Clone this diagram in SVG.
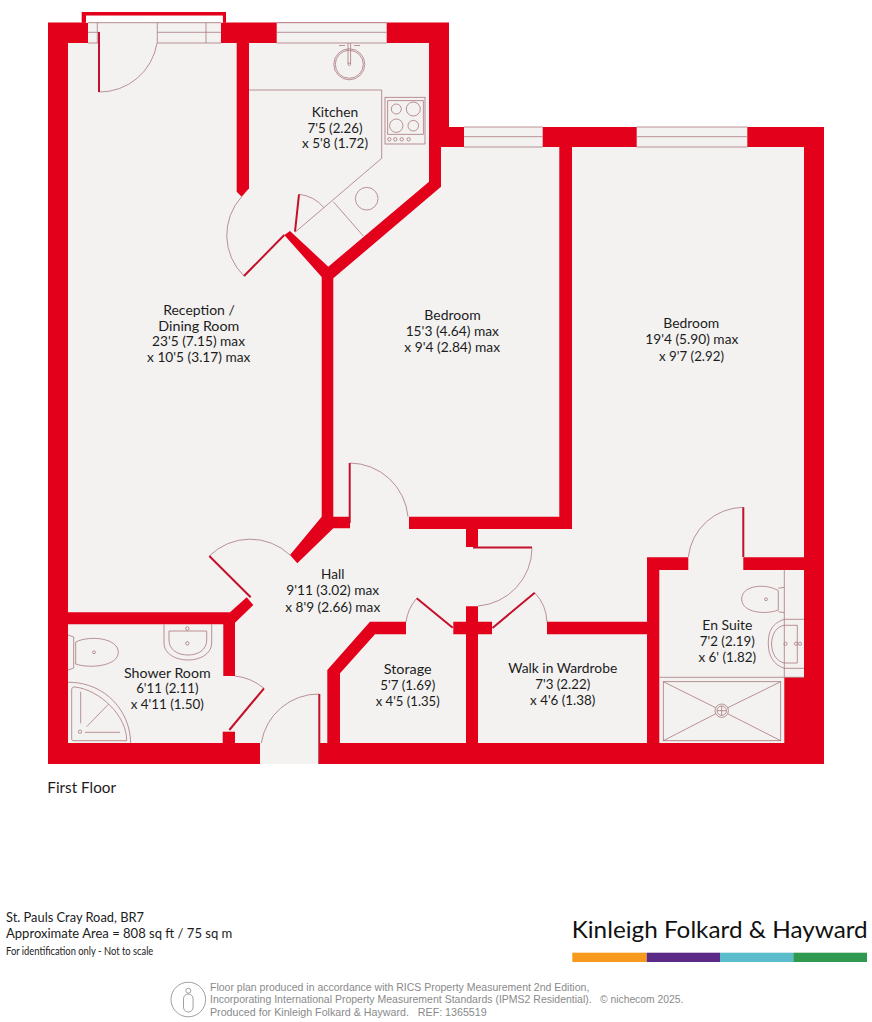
<svg xmlns="http://www.w3.org/2000/svg" width="872" height="1022" viewBox="0 0 872 1022">
<style>
.wall{fill:#e2001a}
.room{fill:#f3f2f1}
.ln{fill:none;stroke:#a9777c;stroke-width:.8}
.leaf{fill:none;stroke:#c4102a;stroke-width:2}
.t{font-family:Lato,"Open Sans",sans-serif;font-size:14.2px;fill:#1c1c1c;text-anchor:middle}
.l{font-family:Lato,"Open Sans",sans-serif;fill:#1c1c1c}
.g{font-family:"Liberation Sans",Arial,sans-serif;font-size:10.7px;fill:#8a8a8a}
</style>
<rect width="872" height="1022" fill="#fff"/>
<g id="shell">
<polygon class="wall" points="48,22.5 449,22.5 449,127 824,127 824,764 48,764"/>
<polygon class="room" points="68,43 429,43 429,147 804,147 804,743 68,743"/>
<polygon class="wall" points="81.7,22.7 81.7,12 226,12 226,22.7 222.7,22.7 222.7,15.7 86,15.7 86,22.7"/>
<rect x="86" y="15.7" width="136.7" height="7" fill="#fff"/>
</g>
<g id="walls">
<polygon class="wall" points="236.7,43 236.7,191.7 241.7,196.7 249,188.3 249,43"/>
<polygon class="wall" points="429,140 441,140 441,186.7 333.3,278.3 333.3,516.7 350,516.7 350,528.3 333.3,528.3 297.3,563.3 290,555 321.7,516.7 321.7,277 284.3,235 290,231 328.3,266.7 429,181.7"/>
<polygon class="wall" points="559.3,147 572,147 572,529 478,529 478,547 466,547 466,529 409,529 409,516.7 559.3,516.7"/>
<polygon class="wall" points="466,606.3 478,606.3 478,621.7 492,621.7 492,634.3 478,634.3 478,743 466,743 466,634.3 453.3,634.3 453.3,621.7 466,621.7"/>
<polygon class="wall" points="547,621.7 647,621.7 647,557.3 688.3,557.3 688.3,570 659.3,570 659.3,743 647,743 647,634.3 547,634.3"/>
<polygon class="wall" points="743.3,557.3 804,557.3 804,570 743.3,570"/>
<polygon class="wall" points="784.3,677.3 804,677.3 804,743 784.3,743"/>
<polygon class="wall" points="406,621.7 370,621.7 327.3,670 327.3,743 340,743 340,673.3 375,634.3 406,634.3"/>
<polygon class="wall" points="68,612.3 230,612.3 246.7,597.3 253.3,605 235,622.7 235,676 223.3,676 223.3,624.3 68,624.3"/>
<rect class="wall" x="222.7" y="731.7" width="12.3" height="11.3"/>
<rect class="room" x="260" y="743" width="59.3" height="21"/>
</g>
<g id="windows">
<rect class="room" x="88" y="22.7" width="133" height="20.3"/>
<rect class="room" x="276.7" y="22.7" width="110" height="20.3"/>
<rect class="room" x="464" y="127" width="78.7" height="20"/>
<rect class="room" x="636.7" y="127" width="110.6" height="20"/>
<path class="ln" d="M88 22.7H221M157.3 43H221M88 43H99M88 32.3H99M157.3 32.3H221M157.3 22.7V43M206 22.7V43M97.3 22.7V43M276.7 22.7H386.7M276.7 32.3H386.7M276.7 43H386.7M464 127H542.7M464 136.7H542.7M464 147H542.7M636.7 127H747.3M636.7 136.7H747.3M636.7 147H747.3"/>
</g>
<g id="doors">
<path class="ln" d="M99 92A58 58 0 0 0 157 43M244 276A57 57 0 0 1 241.7 196.7M299 194.3A38 38 0 0 1 324 207.7M350 463A59 59 0 0 1 408 516.7M209.3 556A58 58 0 0 1 290 555M264 688.3A54.4 54.4 0 0 0 235 676M319 694A58 58 0 0 0 261.3 743M532 548A58.5 58.5 0 0 1 478 606M416.7 598.3A45 45 0 0 0 406 622M534.7 592.7A45 45 0 0 1 547 622M688.3 557A56 56 0 0 1 743.3 507.3"/>
<path class="leaf" d="M99 32V92M244 276L284.3 235M299 194.3L295 231.7M250.7 597.3L209.3 556M229.3 730L264 688.3M319.3 694V764M349.7 463V523M473 547.5H532M492.5 628L534.7 592.7M416.7 598.3L452.7 627.7M743.3 507.3V557"/>
</g>
<g id="fixtures">
<path class="ln" d="M249 90H381.7V158.3L295 232.3M333.3 201.7L363.3 236"/>
<circle class="ln" cx="366.7" cy="198.7" r="11.3"/>
<circle class="ln" cx="349.3" cy="64.3" r="15.5"/>
<circle class="ln" cx="349.3" cy="64.3" r="14"/>
<path class="ln" d="M348 43V64M350.6 43V64M339 45.5H345M354 45.5H360"/>
<circle class="ln" cx="349.3" cy="64.3" r="1.2"/>
<rect class="ln" x="385" y="97.3" width="40" height="46.7"/>
<rect class="ln" x="387.7" y="100.7" width="35.6" height="33.6"/>
<circle class="ln" cx="396.3" cy="109" r="5"/>
<circle class="ln" cx="413.3" cy="109" r="7"/>
<circle class="ln" cx="396.3" cy="125.7" r="6.7"/>
<circle class="ln" cx="413.3" cy="125.7" r="5.3"/>
<circle class="ln" cx="389.3" cy="139.3" r="1.7"/>
<circle class="ln" cx="395.3" cy="139.3" r="1.7"/>
<circle class="ln" cx="401.7" cy="139.3" r="1.7"/>
<circle class="ln" cx="408.7" cy="139.3" r="1.7"/>
<path class="ln" d="M784.3 570V677.3M659.3 677.3H784.3M784.3 619.3H804M784.3 668.3H804M784.3 677.3H804"/>
<path class="ln" d="M778.3 590.7C766 583 741.7 585 741.7 599C741.7 613 766 615 778.3 610ZM778.3 588.3L784.3 587.3M778.3 611.7L784.3 612.7"/>
<circle class="ln" cx="766" cy="599.3" r="1.4"/>
<path class="ln" d="M784.3 619.3C770 624 768.3 634 768.3 644C768.3 656 774 665 784.3 668.3M797.3 625.3H784C776 627 772 634 771.5 644C772 655 777 661 784 663H797.3Z"/>
<circle class="ln" cx="785.5" cy="643.7" r="1.6"/>
<circle class="ln" cx="796" cy="643.7" r="1.6"/>
<circle class="ln" cx="800" cy="643.7" r="1.6"/>
<rect class="ln" x="663.3" y="681.7" width="117.4" height="59"/>
<path class="ln" d="M663.3 681.7L721.7 710.7L780.7 681.7M663.3 740.7L721.7 710.7L780.7 740.7"/>
<circle class="ln" cx="721.7" cy="710.7" r="6.7" style="fill:#f3f2f1"/>
<circle class="ln" cx="721.7" cy="710.7" r="4.7"/>
<path class="ln" d="M717 710.7H726.4M721.7 706V715.4"/>
<path class="ln" d="M68 635L73.7 637V668L68 670M75.7 642C90 635 118.3 638 118.3 652.3C118.3 666 90 669 75.7 664Z"/>
<circle class="ln" cx="94" cy="652.3" r="1.4"/>
<path class="ln" d="M164 624.3V643C164 654 176 660 188 660C200 660 211.7 654 211.7 643V624.3M169 631H206.7V640C206.7 650 198 655 188 655C178 655 169 650 169 640Z"/>
<circle class="ln" cx="187.3" cy="628.5" r="1.7"/>
<circle class="ln" cx="187.3" cy="643.3" r="1.7"/>
<path class="ln" d="M68 682.3H72C105 684 130 710 130.7 743"/>
<path class="ln" d="M75 687H74C72 687 71.7 689 71.7 690V738C71.7 740 72 740.7 74 740.7H126.7C127 716 100 690 75 687Z"/>
<path class="ln" d="M80.7 691.7V723.3M86.7 726.7L108.3 704.3M85 732.3H120"/>
<circle class="ln" cx="80" cy="731.7" r="1.7"/>
</g>
<g id="reception"><text class="t" x="199" y="315" textLength="71.7" lengthAdjust="spacingAndGlyphs">Reception /</text><text class="t" x="198.8" y="330.5" textLength="81" lengthAdjust="spacingAndGlyphs">Dining Room</text><text class="t" x="198.5" y="346" textLength="93" lengthAdjust="spacingAndGlyphs">23'5 (7.15) max</text><text class="t" x="198.7" y="362" textLength="103.3" lengthAdjust="spacingAndGlyphs">x 10'5 (3.17) max</text></g>
<g id="kitchen"><text class="t" x="335" y="116.7" textLength="46.7" lengthAdjust="spacingAndGlyphs">Kitchen</text><text class="t" x="335" y="132.7" textLength="55" lengthAdjust="spacingAndGlyphs">7'5 (2.26)</text><text class="t" x="335" y="148.3" textLength="66" lengthAdjust="spacingAndGlyphs">x 5'8 (1.72)</text></g>
<g id="bedroom1"><text class="t" x="452.5" y="320" textLength="56.3" lengthAdjust="spacingAndGlyphs">Bedroom</text><text class="t" x="452.3" y="335.7" textLength="93.3" lengthAdjust="spacingAndGlyphs">15'3 (4.64) max</text><text class="t" x="452.2" y="351.7" textLength="95.7" lengthAdjust="spacingAndGlyphs">x 9'4 (2.84) max</text></g>
<g id="bedroom2"><text class="t" x="691.3" y="328.3" textLength="56" lengthAdjust="spacingAndGlyphs">Bedroom</text><text class="t" x="691.8" y="344.3" textLength="93" lengthAdjust="spacingAndGlyphs">19'4 (5.90) max</text><text class="t" x="691.5" y="360.7" textLength="65" lengthAdjust="spacingAndGlyphs">x 9'7 (2.92)</text></g>
<g id="hall"><text class="t" x="332.7" y="579.3" textLength="23.3" lengthAdjust="spacingAndGlyphs">Hall</text><text class="t" x="332.7" y="595.3" textLength="93" lengthAdjust="spacingAndGlyphs">9'11 (3.02) max</text><text class="t" x="332.7" y="612" textLength="95" lengthAdjust="spacingAndGlyphs">x 8'9 (2.66) max</text></g>
<g id="shower"><text class="t" x="167.3" y="677.7" textLength="86.7" lengthAdjust="spacingAndGlyphs">Shower Room</text><text class="t" x="167.3" y="693.3" textLength="62.3" lengthAdjust="spacingAndGlyphs">6'11 (2.11)</text><text class="t" x="167.3" y="709" textLength="73.3" lengthAdjust="spacingAndGlyphs">x 4'11 (1.50)</text></g>
<g id="storage"><text class="t" x="407.7" y="674" textLength="48" lengthAdjust="spacingAndGlyphs">Storage</text><text class="t" x="407.7" y="690" textLength="55" lengthAdjust="spacingAndGlyphs">5'7 (1.69)</text><text class="t" x="407.7" y="706" textLength="64" lengthAdjust="spacingAndGlyphs">x 4'5 (1.35)</text></g>
<g id="wardrobe"><text class="t" x="562.7" y="672.7" textLength="109" lengthAdjust="spacingAndGlyphs">Walk in Wardrobe</text><text class="t" x="562.7" y="689" textLength="55" lengthAdjust="spacingAndGlyphs">7'3 (2.22)</text><text class="t" x="562.7" y="705" textLength="65.3" lengthAdjust="spacingAndGlyphs">x 4'6 (1.38)</text></g>
<g id="ensuite"><text class="t" x="727.3" y="630" textLength="50" lengthAdjust="spacingAndGlyphs">En Suite</text><text class="t" x="727.3" y="646" textLength="55" lengthAdjust="spacingAndGlyphs">7'2 (2.19)</text><text class="t" x="727.3" y="662" textLength="57.7" lengthAdjust="spacingAndGlyphs">x 6' (1.82)</text></g>
<g id="footer">
<text class="l" x="47.3" y="793.3" font-size="16" textLength="68.7" lengthAdjust="spacingAndGlyphs">First Floor</text>
<text class="l" x="6" y="921.7" font-size="14" textLength="138" lengthAdjust="spacingAndGlyphs">St. Pauls Cray Road, BR7</text>
<text class="l" x="6" y="938.3" font-size="14" textLength="226.3" lengthAdjust="spacingAndGlyphs">Approximate Area = 808 sq ft / 75 sq m</text>
<text class="l" x="6" y="955" font-size="10.5" textLength="147.3" lengthAdjust="spacingAndGlyphs">For identification only - Not to scale</text>
<text class="l" x="571.7" y="938.3" font-size="24" textLength="296" lengthAdjust="spacingAndGlyphs" style="fill:#111">Kinleigh Folkard &amp; Hayward</text>
<rect x="572.3" y="952.7" width="74.4" height="9.3" fill="#f7991c"/>
<rect x="646.7" y="952.7" width="73.3" height="9.3" fill="#5b2a86"/>
<rect x="720" y="952.7" width="73.3" height="9.3" fill="#5bbccb"/>
<rect x="793.3" y="952.7" width="73.7" height="9.3" fill="#2f9a4f"/>
<circle cx="188.3" cy="999.5" r="17.3" fill="none" stroke="#888" stroke-width=".8"/>
<circle cx="188.3" cy="990.7" r="2.5" fill="none" stroke="#888" stroke-width=".8"/>
<rect x="183.5" y="994" width="9.6" height="18" rx="4.8" fill="none" stroke="#888" stroke-width=".8"/>
<text class="g" x="210" y="991" textLength="379.3" lengthAdjust="spacingAndGlyphs">Floor plan produced in accordance with RICS Property Measurement 2nd Edition,</text>
<text class="g" x="210" y="1003.3" textLength="381.7" lengthAdjust="spacingAndGlyphs">Incorporating International Property Measurement Standards (IPMS2 Residential).</text>
<text class="g" x="600" y="1003.3" textLength="83.3" lengthAdjust="spacingAndGlyphs">© nichecom 2025.</text>
<text class="g" x="210" y="1015.7" textLength="276.7" lengthAdjust="spacingAndGlyphs" xml:space="preserve">Produced for Kinleigh Folkard &amp; Hayward.   REF: 1365519</text>
</g>
</svg>
